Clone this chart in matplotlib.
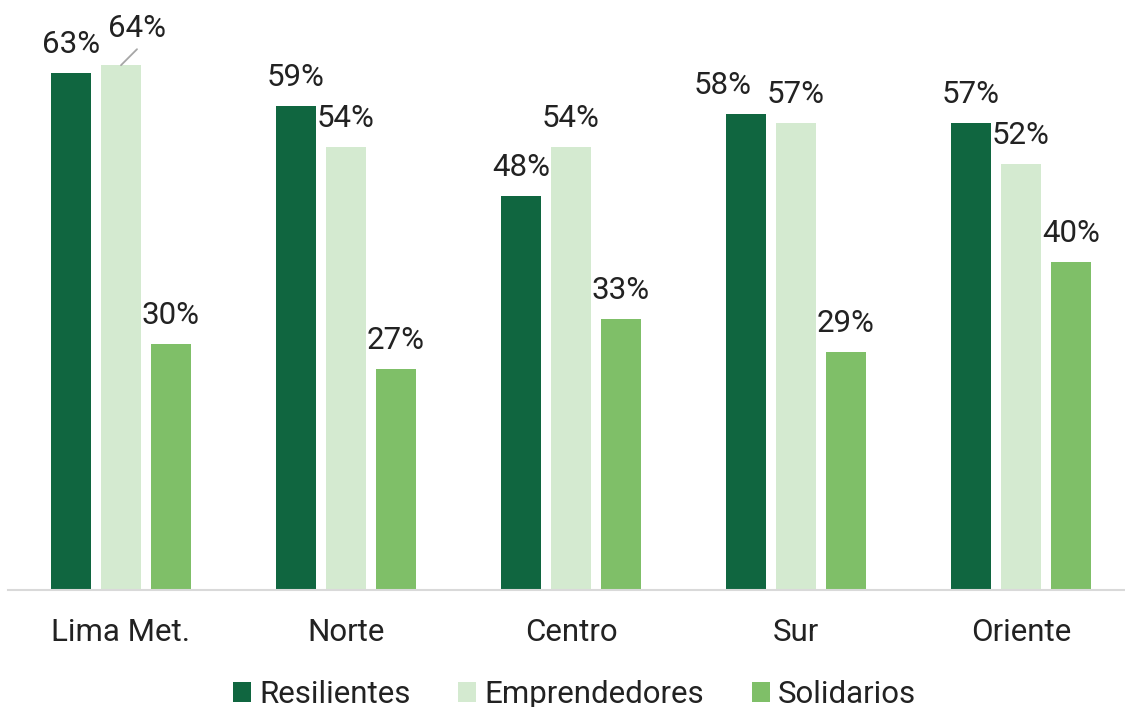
import matplotlib
matplotlib.use('Agg')
import matplotlib.pyplot as plt
import numpy as np
from matplotlib.patches import Patch

plt.rcParams['font.family'] = ['Roboto', 'DejaVu Sans']

# ---- data ----
categories = ['Lima Met.', 'Norte', 'Centro', 'Sur', 'Oriente']
series_names = ['Resilientes', 'Emprendedores', 'Solidarios']
resilientes = [63, 59, 48, 58, 57]
emprendedores = [64, 54, 54, 57, 52]
solidarios = [30, 27, 33, 29, 40]

# ---- style ----
colors = ['#106640', '#d4ead0', '#7fbf68']
text_color = '#222222'
FS = 22.5
W, H = 1125, 707
PT = 72 / 100  # points per pixel

fig = plt.figure(figsize=(W / 100, H / 100), dpi=100)
ax = fig.add_axes([8 / W, 117 / H, (W - 8) / W, 590 / H])

x = np.arange(len(categories))
offsets = [-50 / 225, 0, 50 / 225]
width = 39.5 / 225
all_series = [resilientes, emprendedores, solidarios]

# special label placements (in pixels): (series, category) -> (dx, dy)
special = {(1, 0): (16, 28), (0, 3): (-23, 20)}
leader = {(1, 0): (16, 16)}

for si, (vals, off, col) in enumerate(zip(all_series, offsets, colors)):
    bars = ax.bar(x + off, vals, width=width, color=col, label=series_names[si], zorder=2)
    for ci, (b, v) in enumerate(zip(bars, vals)):
        cx = b.get_x() + b.get_width() / 2
        dx, dy = special.get((si, ci), (0, 20))
        ax.annotate(f'{v}%', xy=(cx, v), xytext=(dx * PT, dy * PT),
                    textcoords='offset points', ha='center', va='baseline',
                    fontsize=FS, color=text_color, zorder=3)
        if (si, ci) in leader:
            lx, ly = leader[(si, ci)]
            ax.annotate('', xy=(cx, v), xytext=(lx * PT, ly * PT),
                        textcoords='offset points',
                        arrowprops=dict(arrowstyle='-', color='#a6a6a6', lw=1.3,
                                        shrinkA=0, shrinkB=0))

ax.set_xlim(-113 / 225, (W - 121) / 225)
ax.set_ylim(0, 590 / 8.2)

for s in ['top', 'right', 'left']:
    ax.spines[s].set_visible(False)
ax.spines['bottom'].set_color('#d9d9d9')
ax.spines['bottom'].set_linewidth(1.5)
ax.set_yticks([])
ax.set_xticks(x)
ax.set_xticklabels(categories, fontsize=FS, color=text_color)
ax.tick_params(axis='x', length=0, pad=20.5)

handles = [Patch(facecolor=c, edgecolor='none') for c in colors]
fig.legend(handles, series_names, loc='center', bbox_to_anchor=(574.5 / W, 12.4 / H),
           ncol=3, frameon=False, fontsize=FS, handlelength=0.576, handleheight=0.576,
           handletextpad=0.25, columnspacing=1.53, borderpad=0, borderaxespad=0,
           labelcolor=text_color)

fig.savefig('out.png', dpi=100)
